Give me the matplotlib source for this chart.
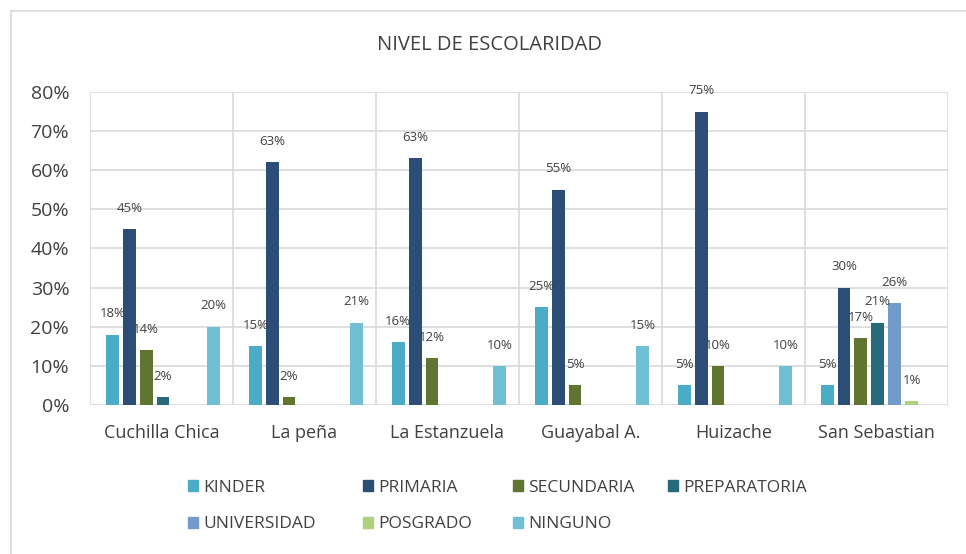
import numpy as np
import matplotlib.pyplot as plt
from matplotlib.lines import Line2D
from matplotlib.patches import Patch

plt.rcParams['font.family'] = ['Open Sans', 'DejaVu Sans']

# data
lugares = ["Cuchilla Chica", "La peña", "La Estanzuela", "Guayabal A.", "Huizache", "San Sebastian"]
niveles = ["KINDER", "PRIMARIA", "SECUNDARIA", "PREPARATORIA", "UNIVERSIDAD", "POSGRADO", "NINGUNO"]
kinder = [18, 15, 16, 25, 5, 5]
primaria = [45, 62, 63, 55, 75, 30]
secundaria = [14, 2, 12, 5, 10, 17]
preparatoria = [2, 0, 0, 0, 0, 21]
universidad = [0, 0, 0, 0, 0, 26]
posgrado = [0, 0, 0, 0, 0, 1]
ninguno = [20, 21, 10, 15, 10, 0]
etiquetas = {
    "PRIMARIA": [45, 63, 63, 55, 75, 30],
}
colores = ["#4BACC6", "#2C4D75", "#5F7530", "#276A7C", "#729ACA", "#AFD07C", "#71BFD3"]

series = [kinder, primaria, secundaria, preparatoria, universidad, posgrado, ninguno]
gris = "#404040"

fig = plt.figure(figsize=(9.66, 5.54), dpi=100)
ax = fig.add_axes([0.0932, 0.269, 0.888, 0.565])

x = np.arange(len(lugares))
slot = 0.118
ancho = 0.09
for i, (vals, nombre, col) in enumerate(zip(series, niveles, colores)):
    pos = x + (i - 3) * slot + 0.01
    ax.bar(pos, np.array(vals) / 100, ancho, color=col, label=nombre, zorder=3)
    labs = etiquetas.get(nombre, vals)
    for p, v, l in zip(pos, vals, labs):
        if v > 0:
            ax.annotate("%d%%" % l, (p, v / 100), xytext=(0, 15), textcoords="offset points",
                        ha="center", va="center", fontsize=9.5, color=gris, zorder=4)

ax.set_ylim(0, 0.8)
ax.set_xlim(-0.5, len(lugares) - 0.5)
ax.set_yticks(np.arange(0, 0.81, 0.1))
ax.set_yticklabels(["%d%%" % v for v in range(0, 81, 10)], fontsize=14, color=gris)
ax.set_xticks(x)
ax.set_xticklabels(lugares, fontsize=13, color=gris)
ax.tick_params(axis="x", length=0, pad=14)
ax.tick_params(axis="y", length=0, pad=15)
ax.grid(axis="y", color="#D9D9D9", linewidth=1.2, zorder=0)
for b in np.arange(-0.5, len(lugares), 1):
    ax.axvline(b, color="#D9D9D9", linewidth=1.2, zorder=0)
for s in ax.spines.values():
    s.set_visible(False)

fig.text(0.507, 0.918, "NIVEL DE ESCOLARIDAD", ha="center", va="center", fontsize=14.5, color=gris)

# leyenda en filas: una leyenda por columna
columnas = [[0, 4], [1, 5], [2, 6], [3]]
xs = [180, 355, 505, 660]
for idx, xc in zip(columnas, xs):
    hs = [Patch(color=colores[k], label=niveles[k]) for k in idx]
    leg = fig.legend(handles=hs, loc="upper left", bbox_to_anchor=((xc - 8) / 966, 1 - 464 / 554),
                     frameon=False, fontsize=12.5, handlelength=0.6, handleheight=0.6,
                     labelspacing=1.2, handletextpad=0.3, labelcolor=gris)

# marco del grafico
fig.add_artist(Line2D([11 / 966, 11 / 966], [0, 1 - 11 / 554], color="#D9D9D9", linewidth=1.2))
fig.add_artist(Line2D([11 / 966, 1], [1 - 11 / 554, 1 - 11 / 554], color="#D9D9D9", linewidth=1.2))

fig.savefig("out.png", dpi=100)
